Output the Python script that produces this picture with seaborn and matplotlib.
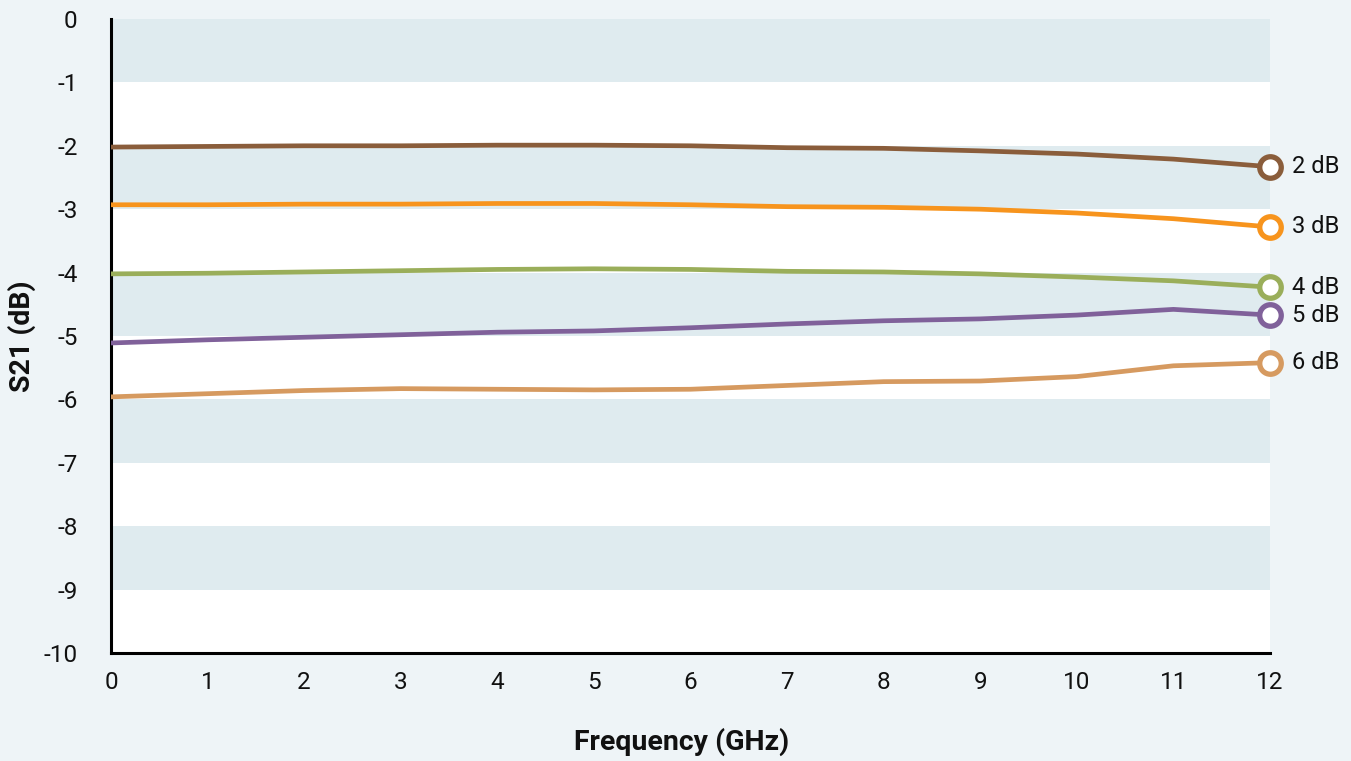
import matplotlib
matplotlib.use('Agg')
import matplotlib.pyplot as plt
import seaborn as sns
import pandas as pd

# frequency points (GHz)
freq = [0, 1, 2, 3, 4, 5, 6, 7, 8, 9, 10, 11, 12]

# S21 readings per attenuator
s21_2db = [-2.02, -2.01, -2.00, -2.00, -1.99, -1.99, -2.00, -2.03, -2.04, -2.08, -2.13, -2.21, -2.33]
s21_3db = [-2.93, -2.93, -2.92, -2.92, -2.91, -2.91, -2.93, -2.96, -2.97, -3.00, -3.06, -3.15, -3.28]
s21_4db = [-4.02, -4.01, -3.99, -3.97, -3.95, -3.94, -3.95, -3.98, -3.99, -4.02, -4.07, -4.13, -4.23]
s21_5db = [-5.11, -5.06, -5.02, -4.98, -4.94, -4.92, -4.87, -4.81, -4.76, -4.73, -4.67, -4.58, -4.67]
s21_6db = [-5.96, -5.91, -5.86, -5.83, -5.84, -5.85, -5.84, -5.78, -5.72, -5.71, -5.64, -5.47, -5.42]

series = {
    '2 dB': s21_2db,
    '3 dB': s21_3db,
    '4 dB': s21_4db,
    '5 dB': s21_5db,
    '6 dB': s21_6db,
}
colors = ['#8a5d3b', '#f7941d', '#9aae5a', '#80619a', '#d69a60']

sns.set_style('white')
plt.rcParams['font.family'] = ['Roboto', 'DejaVu Sans']
plt.rcParams['axes.unicode_minus'] = False

fig = plt.figure(figsize=(13.51, 7.61), dpi=100, facecolor='#eef4f7')
ax = fig.add_axes([111 / 1351, 1 - 653 / 761, (1270 - 111) / 1351, (653 - 19) / 761])
ax.set_facecolor('white')

# alternating bands
for top in [0, -2, -4, -6, -8]:
    ax.axhspan(top - 1, top, color='#dfebef', lw=0, zorder=0)

for (name, vals), c in zip(series.items(), colors):
    df = pd.DataFrame({'freq': freq, 's21': vals})
    sns.lineplot(data=df, x='freq', y='s21', color=c, lw=3.4, ax=ax, zorder=3)
    ax.scatter([freq[-1]], [vals[-1]], s=240, facecolor='white', edgecolor=c,
               linewidth=3.8, zorder=5, clip_on=False)
    ax.text(freq[-1] + 0.23, vals[-1], name, va='center', ha='left', fontsize=17,
            color='#111111')

ax.set_xlim(0, 12)
ax.set_ylim(-10, 0)
ax.set_xticks(range(0, 13))
ax.set_yticks(range(-10, 1))
ax.tick_params(axis='both', length=0, labelsize=17.5, colors='#111111')
ax.tick_params(axis='x', pad=13)
ax.tick_params(axis='y', pad=24)

for s in ['top', 'right']:
    ax.spines[s].set_visible(False)
for s in ['left', 'bottom']:
    ax.spines[s].set_color('black')
    ax.spines[s].set_linewidth(2.2)

ax.set_xlabel('')
ax.set_ylabel('')
fig.text(682 / 1351, 1 - 742 / 761, 'Frequency (GHz)', fontsize=20.5, fontweight='bold',
         ha='center', va='center', color='#111111')
fig.text(22 / 1351, 1 - 336 / 761, 'S21 (dB)', fontsize=20.5, fontweight='bold',
         rotation=90, ha='center', va='center', color='#111111')

fig.savefig('out.png', dpi=100, facecolor=fig.get_facecolor())
